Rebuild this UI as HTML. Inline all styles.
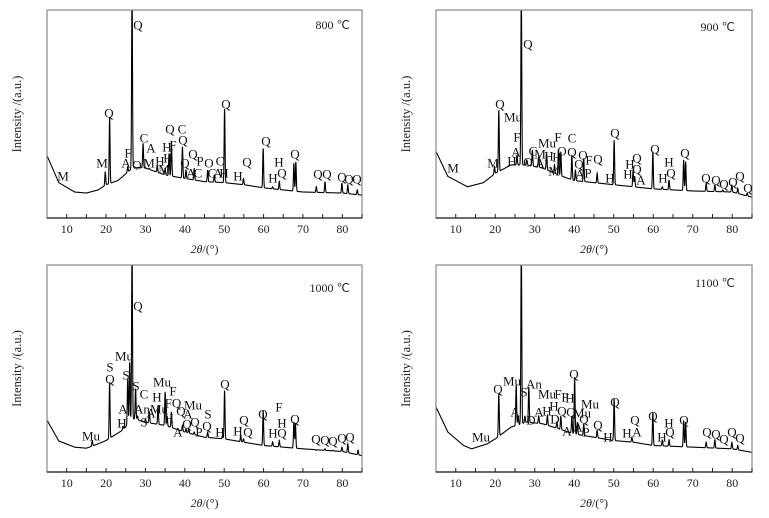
<!DOCTYPE html>
<html><head><meta charset="utf-8">
<style>
html,body{margin:0;padding:0;background:#fff;}
svg{display:block;font-family:"Liberation Serif",serif;}
</style></head>
<body>
<svg id="fig" width="769" height="518" viewBox="0 0 769 518" xmlns="http://www.w3.org/2000/svg"></svg>
<script>
// ---- data (percent of plot height) ----
const xTicks = [10,20,30,40,50,60,70,80];
const panelTitles = ["800 ℃","900 ℃","1000 ℃","1100 ℃"];

const base1 = [[5,30],[8,17],[12,12.5],[15,12],[18,13.5],[20,16],[23,18],[27,24.5],[30,24],[35,20.7],[40,19],[45,17.5],[50,17],[55,16],[60,14.5],[70,12.5],[80,12],[85,11]];
const peakPos1 = [19.8,20.9,25.5,26.6,27.8,29.4,31,33,35,36,36.6,39.4,40.3,42.4,45.8,47.5,50.1,54.9,59.9,62.3,64,67.7,68.2,73.4,75.6,79.9,81.4,83.8];
const peakTop1 = [22.3,48.7,24.7,110,23.9,35.9,23.9,25,23.9,31.1,36.7,34.3,23.1,23.9,23.1,20.7,52.7,19,33.5,15,17.5,26.3,27,15,17.5,16.7,15.9,13.5];

const base2 = [[5,32],[8,20],[13,15],[17,17],[20,21.5],[24,25.5],[28,25.5],[32,24],[36,20.7],[40,18],[45,17],[50,16],[55,15],[60,14],[70,13],[80,12.5],[85,10]];
const peakPos2 = [19.8,20.9,25.5,26.6,28,29.4,31,33,35,36,36.6,39.4,40.3,42.4,45.8,50.1,54.9,55.3,59.9,62.3,64,67.7,68.2,73.4,75.6,77.6,79.9,81.4,83.8];
const peakTop2 = [24.7,52,30.3,110,27.9,32.7,29.5,31.1,25.5,32.7,31.9,30.3,23.1,28.7,21.5,37.5,23.1,19.9,31.9,15,18.3,27.9,27.1,16.7,15.9,13.5,15.9,14.3,11.9];

const base3 = [[5,25],[8,15],[12,12],[15,11.5],[18,13.6],[20,15.2],[24,20],[27,25.7],[30,24],[35,22.5],[40,19.3],[45,16.8],[50,16],[55,14.4],[60,12.8],[70,11.2],[80,9.9],[85,7.9]];
const peakPos3 = [16.5,20.9,24.3,25.5,26.0,26.6,27.5,28,30,31,33.2,35,35.5,36.6,39.4,40.3,41,42.4,45.8,49.6,50.1,54.2,54.9,57.3,59.9,62.3,64,67.7,68.1,73.4,75.6,77.6,79.9,81.4,84];
const peakTop3 = [15.2,43.5,22,45,53,110,40.3,27,25.5,29,32.2,38.7,27,29,22.5,21,21,19.3,19.3,17.5,39.5,17.5,16,13.6,29.8,14.6,15.2,24.1,23.3,10.5,11.2,10.5,12,13.6,10.5];

const base4 = [[5,31.4],[8,19.3],[12,12.8],[14,11.2],[18,13.6],[20,16],[24,21.7],[28,24.1],[32,23.3],[36,20.9],[40,18.4],[45,16.8],[50,15.2],[55,14.4],[60,12.8],[70,12],[80,11.2],[85,9.5]];
const peakPos4 = [20.9,25.3,25.8,26.6,27.5,28.5,31,33.2,35.6,36.6,39.4,40.1,40.8,42.4,45.8,50.1,54.6,59.9,62.3,64,67.7,68.2,73.4,75.6,79.9,81.4];
const peakTop4 = [37.9,41.9,27,110,27,41.1,27,27.3,24.1,27,27,46,24.1,23.3,20.1,35.4,16.8,29,15.5,15.5,24.9,24.1,14.4,15.5,14.4,12.8];

// phase labels: [text, x, y] relative to panel origin (pixels)
const labels1 = [["M",63,176],["M",102,163],["Q",109,113],["F",128,153],["A",126,163],["Q",138,25],["O",137,165],["C",144,138],["A",151,148],["M",149,163],["H",160,161],["M",164,169],["H",167,147],["F",173,145],["H",168,158],["Q",170,129],["C",182,129],["Q",183,140],["Q",193,154],["Q",185,163],["A",191,173],["P",200,161],["C",198,173],["O",209,163],["C",212,173],["C",220,161],["A",218,173],["H",224,173],["Q",226,104],["H",238,176],["Q",247,162],["Q",266,141],["H",279,162],["Q",282,173],["H",273,178],["Q",295,154],["Q",318,174],["Q",327,174],["Q",342,177],["Q",349,179],["Q",357,179]];
const labels2 = [["M",68,168],["M",108,163],["Q",115,104],["Mu",128,117],["F",132,137],["A",131,152],["H",127,161],["O",143,162],["Q",143,44],["C",148,151],["M",155,154],["A",155,163],["Mu",162,143],["F",173,137],["C",187,138],["H",164,156],["H",172,157],["M",169,171],["O",177,151],["Q",187,152],["O",198,155],["Q",194,164],["F",204,160],["A",195,174],["P",203,173],["Q",213,159],["H",225,178],["Q",230,133],["H",245,164],["Q",252,158],["H",243,174],["Q",252,169],["A",256,180],["Q",270,149],["H",284,162],["Q",286,173],["H",278,178],["Q",300,153],["Q",321,178],["Q",331,180],["Q",339,184],["Q",348,182],["Q",355,176],["Q",363,188]];
const labels3 = [["Mu",91,177],["S",110,108],["Q",110,120],["Mu",124,97],["S",126,116],["A",123,150],["H",122,164],["S",136,127],["C",144,135],["An",142,150],["Q",138,47],["A",151,154],["S",144,163],["H",157,138],["Mu",162,123],["Mu",159,150],["F",173,132],["FQ",173,144],["Q",181,152],["Mu",193,146],["A",188,155],["H",169,159],["A",178,173],["Q",187,165],["Q",195,163],["P",199,173],["S",208,155],["Q",207,167],["H",220,173],["Q",225,125],["Q",244,161],["H",238,172],["Q",248,173],["Q",263,155],["F",279,148],["H",282,164],["H",273,174],["Q",282,174],["Q",295,160],["Q",316,180],["Q",325,181],["Q",333,182],["Q",342,179],["Q",350,178]];
const labels4 = [["Mu",96,178],["Q",113,130],["Mu",127,122],["S",139,133],["An",149,125],["A",130,153],["D",146,161],["A",154,153],["Mu",162,135],["F",173,135],["F",180,138],["H",185,139],["H",162,152],["H",169,147],["Q",177,152],["Q",186,153],["Mu",197,154],["Mu",205,145],["D",170,160],["Q",189,115],["A",182,172],["A",193,168],["Q",199,160],["P",201,173],["Q",213,166],["H",223,178],["Q",230,143],["H",242,174],["A",252,173],["Q",250,161],["Q",268,157],["H",284,164],["Q",285,173],["H",277,178],["Q",299,161],["Q",322,173],["Q",331,175],["Q",339,180],["Q",347,173],["Q",355,179]];

const panels = [
  {ox:0,oy:0,L:47,R:362,T:10,B:218,base:base1,pos:peakPos1,top:peakTop1,labels:labels1,title:panelTitles[0],tx:350,ty:25},
  {ox:385,oy:0,L:51,R:367,T:10,B:218,base:base2,pos:peakPos2,top:peakTop2,labels:labels2,title:panelTitles[1],tx:350,ty:27},
  {ox:0,oy:259,L:47,R:362,T:6,B:213,base:base3,pos:peakPos3,top:peakTop3,labels:labels3,title:panelTitles[2],tx:350,ty:29},
  {ox:385,oy:259,L:51,R:367,T:6,B:213,base:base4,pos:peakPos4,top:peakTop4,labels:labels4,title:panelTitles[3],tx:350,ty:24}
];

const NS = "http://www.w3.org/2000/svg";
const svg = document.getElementById('fig');
function mk(tag, attrs, parent){const e=document.createElementNS(NS,tag);for(const k in attrs)e.setAttribute(k,attrs[k]);parent.appendChild(e);return e;}
function baseAt(b,x){for(let i=0;i<b.length-1;i++){if(x>=b[i][0]&&x<=b[i+1][0]){const t=(x-b[i][0])/(b[i+1][0]-b[i][0]);return b[i][1]+t*(b[i+1][1]-b[i][1]);}}return b[b.length-1][1];}

panels.forEach((p,pi)=>{
  const g = mk('g',{transform:`translate(${p.ox},${p.oy})`},svg);
  
  
  const xs = v => p.L + (v-5)/(85-5)*(p.R-p.L);
  const ys = v => p.B - v/100*(p.B-p.T);
  // clip
  const cid='clip'+pi;
  const cp = mk('clipPath',{id:cid},g);
  mk('rect',{x:p.L,y:p.T,width:p.R-p.L,height:p.B-p.T},cp);
  // pattern
  const amps = p.pos.map((x,i)=>p.top[i]-baseAt(p.base,x));
  let d='';
  for(let x=5;x<=85.001;x+=0.04){
    let y=baseAt(p.base,x);
    for(let i=0;i<p.pos.length;i++){const dx=(x-p.pos[i])/0.11;y+=amps[i]*Math.exp(-0.5*dx*dx);}
    d+=(d?'L':'M')+xs(x).toFixed(2)+' '+ys(y).toFixed(2);
  }
  const path = mk('path',{d:d,fill:'none',stroke:'#000','stroke-width':1.1,'clip-path':`url(#${cid})`},g);
  
  
  // frame
  const fr = mk('rect',{x:p.L,y:p.T,width:p.R-p.L,height:p.B-p.T,fill:'none',stroke:'#888','stroke-width':1.2},g);
  
  
  mk('line',{x1:p.L,y1:p.B,x2:p.R,y2:p.B,stroke:'#222','stroke-width':1.2},g);
  // ticks
  for(let v=10;v<=85;v+=5){
    const t=mk('line',{x1:xs(v),y1:p.B,x2:xs(v),y2:p.B-4,stroke:'#222','stroke-width':1},g);
    
    
  }
  xTicks.forEach(v=>{
    const t=mk('text',{x:xs(v),y:p.B+15,'text-anchor':'middle','font-size':12,fill:'#222'},g);
    t.textContent=v;
    
    
  });
  // axis titles
  const xt=mk('text',{x:(p.L+p.R)/2,y:p.B+35,'text-anchor':'middle','font-size':12,fill:'#222'},g);
  xt.innerHTML='<tspan font-style="italic">2θ</tspan>/(°)';
  
  
  const yt=mk('text',{x:0,y:0,'text-anchor':'middle','font-size':12.5,fill:'#222',transform:`translate(${p.L-26},${(p.T+p.B)/2}) rotate(-90)`},g);
  yt.textContent='Intensity /(a.u.)';
  
  
  // temperature
  const tt=mk('text',{x:p.tx,y:p.ty+4,'text-anchor':'end','font-size':12,fill:'#222'},g);
  tt.textContent=p.title;
  
  
  // phase labels
  p.labels.forEach(l=>{
    const t=mk('text',{x:l[1],y:l[2]+4.5,'text-anchor':'middle','font-size':13,fill:'#111'},g);
    t.textContent=l[0];
    
    
  });
});
</script>
</body></html>
